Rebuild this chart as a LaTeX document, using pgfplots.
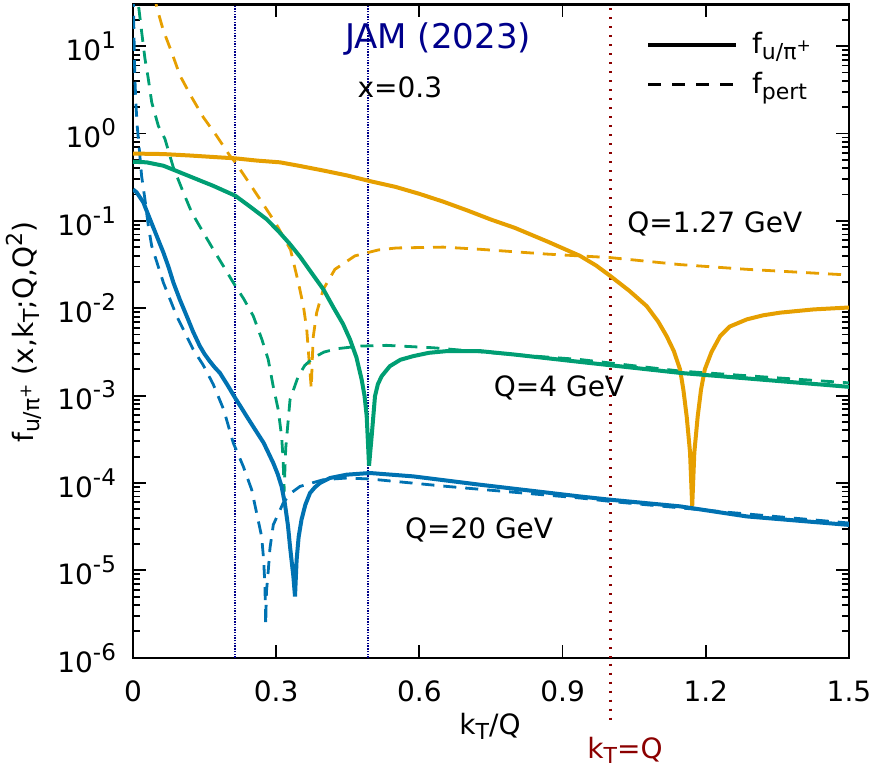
\documentclass[border=0pt]{standalone}
\usepackage{fontspec}
\setmainfont{DejaVu Sans}
\usepackage{pgfplots}
\pgfplotsset{compat=1.18}
\definecolor{jorange}{HTML}{E69F00}
\definecolor{jgreen}{HTML}{009E73}
\definecolor{jblue}{HTML}{0072B2}
\definecolor{jnavy}{HTML}{00008B}
\definecolor{jred}{HTML}{8B0000}
\newcommand{\sbs}[1]{\raisebox{-2.8pt}{\fontsize{11}{11}\selectfont #1}}
\newcommand{\sps}[1]{\raisebox{5.5pt}{\fontsize{11}{11}\selectfont #1}}
\newcommand{\pplus}{\raisebox{3.8pt}{\fontsize{8.5}{8.5}\selectfont +}}
\newcommand{\tsp}[1]{10\raisebox{6pt}{\fontsize{11.5}{11.5}\selectfont #1}}
\begin{document}
\begin{tikzpicture}[font=\fontsize{14}{16.8}\selectfont]
\begin{axis}[
  scale only axis, width=358pt, height=326.6pt,
  xmin=0, xmax=1.5, ymode=log, ymin=1e-6, ymax=30,
  xtick={0,0.3,0.6,0.9,1.2,1.5}, xticklabels={0,0.3,0.6,0.9,1.2,1.5},
  ytick={1e-6,1e-5,1e-4,1e-3,1e-2,1e-1,1,10},
  yticklabels={\tsp{-6},\tsp{-5},\tsp{-4},\tsp{-3},\tsp{-2},\tsp{-1},\tsp{0},\tsp{1}},
  minor ytick={2e-6,3e-6,4e-6,5e-6,6e-6,7e-6,8e-6,9e-6,
               2e-5,3e-5,4e-5,5e-5,6e-5,7e-5,8e-5,9e-5,
               2e-4,3e-4,4e-4,5e-4,6e-4,7e-4,8e-4,9e-4,
               2e-3,3e-3,4e-3,5e-3,6e-3,7e-3,8e-3,9e-3,
               0.02,0.03,0.04,0.05,0.06,0.07,0.08,0.09,
               0.2,0.3,0.4,0.5,0.6,0.7,0.8,0.9,
               2,3,4,5,6,7,8,9,20,30},
  tick align=inside, major tick length=6.5pt, minor tick length=3.5pt,
  axis line style={line width=1.1pt},
  every tick/.style={black, line width=0.9pt},
  xticklabel style={yshift=-8pt}, yticklabel style={xshift=-5pt},
  legend style={draw=none, fill=none, at={(rel axis cs:0.716,0.964)}, anchor=north west,
    font=\fontsize{14}{16.8}\selectfont, row sep=4pt, inner sep=0pt,
    /tikz/every odd column/.append style={column sep=5pt}},
  legend cell align=left,
  legend image code/.code={\draw[#1] (0pt,0pt) -- (44pt,0pt);},
]
\addlegendimage{black, line width=2pt}
\addlegendentry{f\sbs{u/π\pplus}}
\addlegendimage{black, line width=1.6pt, dash pattern=on 6.5pt off 5.5pt}
\addlegendentry{f\sbs{pert}}

% vertical reference lines
\addplot[forget plot, jnavy, line width=1.1pt, dash pattern=on 0.7pt off 0.65pt] coordinates {(0.2144,1e-6) (0.2144,30)};
\addplot[forget plot, jnavy, line width=1.1pt, dash pattern=on 0.7pt off 0.65pt] coordinates {(0.493,1e-6) (0.493,30)};
\addplot[forget plot, jred, line width=1.2pt, dash pattern=on 1pt off 3.5pt] coordinates {(1,1e-6) (1,30)};

% Q = 1.27 GeV, f_pert
\addplot[forget plot, jorange, line width=1.4pt, dash pattern=on 6.5pt off 4.5pt] coordinates {
(0.045,39.8) (0.0496,28.0) (0.0636,15.1) (0.081,8.53) (0.0985,4.60) (0.123,2.60)
(0.1473,1.535) (0.175,0.944) (0.203,0.556) (0.2144,0.468) (0.24,0.29) (0.266,0.177) (0.30,0.092) (0.330,0.0468)
(0.3464,0.0197) (0.357,0.0106) (0.364,0.00573) (0.3677,0.00309) (0.3715,0.00167)
(0.3735,0.00120) (0.3755,0.00251) (0.3778,0.00479) (0.3848,0.00891) (0.3987,0.0165)
(0.423,0.0279) (0.465,0.0398) (0.514,0.0465) (0.552,0.0490) (0.65,0.0501) (0.727,0.0473)
(0.867,0.0417) (1.0,0.0380) (1.146,0.0316) (1.286,0.0279) (1.5,0.0240)};
% Q = 4 GeV, f_pert
\addplot[forget plot, jgreen, line width=1.4pt, dash pattern=on 6.5pt off 4.5pt] coordinates {
(0.008,50) (0.0111,30.7) (0.0182,14.5) (0.0251,7.16) (0.0321,4.22) (0.0392,2.28)
(0.053,1.227) (0.067,0.865) (0.0844,0.411) (0.1054,0.212) (0.123,0.125) (0.1473,0.0736)
(0.168,0.0473) (0.19,0.0300) (0.210,0.0197) (0.232,0.0128) (0.252,0.00815) (0.27,0.00440) (0.2833,0.00259) (0.2937,0.00128)
(0.3042,6.93e-4) (0.3113,3.42e-4) (0.3146,1.85e-4) (0.3165,7.94e-5) (0.320,2.51e-4)
(0.329,9.02e-4) (0.3463,0.00167) (0.36,0.00222) (0.378,0.00271) (0.40,0.00315) (0.4268,0.00344) (0.4756,0.00369)
(0.5313,0.00376) (0.629,0.00353) (0.78,0.00300) (0.9365,0.00259) (1.146,0.00191) (1.5,0.00140)};
% Q = 20 GeV, f_pert
\addplot[forget plot, jblue, line width=1.4pt, dash pattern=on 6.5pt off 4.5pt] coordinates {
(0.0003,39.8) (0.002,14.5) (0.0028,7.80) (0.004,4.22) (0.0063,2.08) (0.0091,1.178)
(0.0132,0.664) (0.018,0.328) (0.0251,0.175) (0.0321,0.0877) (0.0392,0.0516) (0.0636,0.0197)
(0.0915,0.00815) (0.126,0.00338) (0.147,0.00224) (0.168,0.00135) (0.19,6.92e-4) (0.210,2.88e-4) (0.231,1.55e-4)
(0.2486,8.38e-5) (0.259,4.53e-5) (0.2695,2.44e-5) (0.2737,1.32e-5) (0.2765,6.46e-6)
(0.278,2.40e-6) (0.2795,5.62e-6) (0.2833,9.77e-6) (0.287,1.80e-5) (0.294,3.33e-5)
(0.3147,5.89e-5) (0.33,7.6e-5) (0.35,9.14e-5) (0.3986,1.09e-4) (0.448,1.14e-4) (0.497,1.11e-4)
(0.657,9.14e-5) (0.9365,6.73e-5) (1.0,6.15e-5) (1.25,4.6e-5) (1.5,3.48e-5)};

% Q = 1.27 GeV, full
\addplot[forget plot, jorange, line width=2pt] coordinates {
(0,0.59) (0.0636,0.582) (0.12,0.56) (0.182,0.533) (0.2144,0.520) (0.26,0.49) (0.308,0.468) (0.35,0.425) (0.4,0.376) (0.45,0.330) (0.493,0.288)
(0.55,0.245) (0.6,0.204) (0.65,0.166) (0.70,0.132) (0.75,0.1035) (0.8,0.0832) (0.87,0.0575) (0.9365,0.0398) (0.97,0.0309) (1.0,0.0234) (1.04,0.0158) (1.076,0.0106)
(1.10,0.00708) (1.118,0.00479) (1.133,0.00324) (1.146,0.00200) (1.153,0.00117) (1.160,5.75e-4) (1.167,2.24e-4) (1.1715,5.37e-5)
(1.176,2.24e-4) (1.183,5.75e-4) (1.19,0.00117) (1.198,0.00200) (1.212,0.00316) (1.230,0.00479) (1.25,0.00617) (1.286,0.00746)
(1.32,0.00830) (1.356,0.00891) (1.426,0.00970) (1.5,0.0102)};
% Q = 4 GeV, full
\addplot[forget plot, jgreen, line width=2pt] coordinates {
(0,0.475) (0.0286,0.468) (0.0636,0.428) (0.0985,0.359) (0.133,0.301) (0.168,0.252)
(0.2144,0.194) (0.245,0.146) (0.280,0.1045) (0.305,0.0759) (0.329,0.0541) (0.35,0.0389) (0.38,0.0229) (0.3987,0.0165) (0.42,0.0102)
(0.44,0.00661) (0.4546,0.00440) (0.468,0.00275) (0.479,0.00153) (0.485,0.00100) (0.4896,5.81e-4) (0.4945,1.58e-4) (0.50,3.42e-4) (0.507,9.84e-4)
(0.513,0.00135) (0.521,0.00167) (0.538,0.00217) (0.56,0.00257) (0.587,0.00283) (0.62,0.00309) (0.657,0.00323) (0.727,0.00323)
(0.797,0.00296) (0.9365,0.00243) (1.146,0.00182) (1.5,0.00126)};
% Q = 20 GeV, full
\addplot[forget plot, jblue, line width=2pt] coordinates {
(0,0.229) (0.0077,0.212) (0.0216,0.163) (0.0356,0.1045) (0.0496,0.0673) (0.0636,0.0435)
(0.0746,0.0295) (0.0846,0.0197) (0.098,0.0126) (0.1125,0.00815) (0.126,0.00537) (0.140,0.00369) (0.150,0.00299) (0.160,0.00251)
(0.171,0.00211) (0.182,0.00182) (0.198,0.00132)
(0.2144,9.33e-4) (0.226,7.41e-4) (0.238,5.81e-4) (0.256,4.07e-4) (0.2737,2.88e-4) (0.2937,1.70e-4) (0.303,1.27e-4) (0.3113,9.14e-5)
(0.318,5.89e-5) (0.3245,3.31e-5) (0.329,1.87e-5) (0.336,8.49e-6) (0.3394,5.01e-6) (0.3428,1.32e-5)
(0.347,2.40e-5) (0.353,3.80e-5) (0.361,5.62e-5) (0.3708,7.67e-5) (0.381,8.91e-5) (0.3918,1.0e-4) (0.4127,1.14e-4) (0.448,1.245e-4)
(0.4965,1.30e-4) (0.587,1.19e-4) (0.727,9.55e-5) (0.9365,7.01e-5) (1.0,6.43e-5)
(1.146,5.40e-5) (1.286,4.14e-5) (1.5,3.31e-5)};

\node[jnavy, font=\fontsize{17}{20}\selectfont] at (axis cs:0.639,12.1) {JAM (2023)};
\node at (axis cs:0.559,3.41) {x=0.3};
\node at (axis cs:1.219,0.0917) {Q=1.27 GeV};
\node at (axis cs:0.8925,1.24e-3) {Q=4 GeV};
\node at (axis cs:0.725,2.91e-5) {Q=20 GeV};
\end{axis}
\draw[jred, line width=1.2pt, dash pattern=on 1pt off 3.5pt] (238.67pt,-3pt) -- (238.67pt,-32.5pt);
\node[jred, anchor=base] at (246pt,-50.2pt) {k\sbs{T}=Q};
\node[anchor=base] at (178.5pt,-38.2pt) {k\sbs{T}/Q};
\node[rotate=90, anchor=base west] at (-49.75pt,103.9pt) {f\sbs{u/π\pplus} (x,k\sbs{T};Q,Q\sps{2})};
\pgfresetboundingbox
\useasboundingbox (-66.5pt,-55.65pt) rectangle (373.5pt,328.85pt);
\end{tikzpicture}
\end{document}
